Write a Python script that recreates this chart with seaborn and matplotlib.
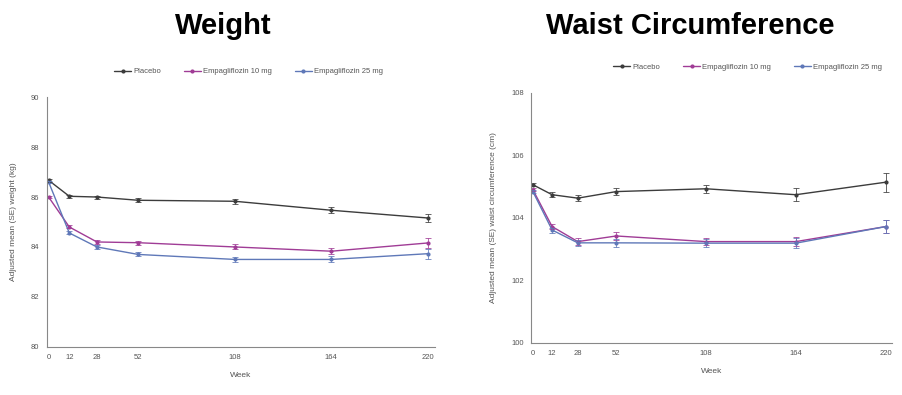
import matplotlib
matplotlib.use("Agg")
import matplotlib.pyplot as plt
import numpy as np
import pandas as pd
import seaborn as sns

weeks = [0, 12, 28, 52, 108, 164, 220]
groups = ["Placebo", "Empagliflozin 10 mg", "Empagliflozin 25 mg"]

weight_placebo = [86.67, 86.03, 86.0, 85.87, 85.83, 85.47, 85.16]
weight_empa10 = [86.0, 84.8, 84.2, 84.17, 84.0, 83.83, 84.16]
weight_empa25 = [86.6, 84.56, 84.0, 83.7, 83.5, 83.5, 83.73]
weight_se_placebo = [0.05, 0.06, 0.06, 0.08, 0.1, 0.12, 0.18]
weight_se_empa10 = [0.05, 0.06, 0.07, 0.08, 0.1, 0.12, 0.2]
weight_se_empa25 = [0.05, 0.06, 0.07, 0.08, 0.1, 0.12, 0.2]

waist_placebo = [105.06, 104.74, 104.63, 104.84, 104.93, 104.74, 105.14]
waist_empa10 = [104.9, 103.72, 103.24, 103.42, 103.24, 103.24, 103.72]
waist_empa25 = [104.84, 103.61, 103.2, 103.2, 103.19, 103.19, 103.72]
waist_se_placebo = [0.05, 0.08, 0.1, 0.1, 0.12, 0.2, 0.3]
waist_se_empa10 = [0.05, 0.08, 0.1, 0.12, 0.12, 0.15, 0.2]
waist_se_empa25 = [0.05, 0.08, 0.1, 0.12, 0.12, 0.15, 0.2]

colors = ["#3c3c3c", "#a03c96", "#5f78b8"]

sns.set_style("white")
plt.rcParams['font.family'] = ['Liberation Sans', 'DejaVu Sans']


def panel(ax, vals, ses, ylim, yticks, ylabel, leg_x):
    rows = []
    for g, v in zip(groups, vals):
        for w, y in zip(weeks, v):
            rows.append({"Week": w, "value": y, "group": g})
    df = pd.DataFrame(rows)
    sns.lineplot(data=df, x="Week", y="value", hue="group", hue_order=groups,
                 palette=colors, marker="o", markersize=3, markeredgewidth=0,
                 linewidth=1.0, ax=ax)
    for g, v, s, c in zip(groups, vals, ses, colors):
        ax.errorbar(weeks, v, yerr=s, fmt="none", ecolor=c, elinewidth=0.7,
                    capsize=2, capthick=0.7, alpha=0.8)
    ax.set_xlim(-1, 224)
    ax.set_ylim(*ylim)
    ax.set_xticks(weeks)
    ax.set_yticks(yticks)
    ax.tick_params(axis="both", labelsize=5.5, length=2.5, width=0.6,
                   colors="#666666", labelcolor="#555555", pad=3)
    ax.tick_params(axis="x", direction="in", pad=5)
    for sp in ["top", "right"]:
        ax.spines[sp].set_visible(False)
    for sp in ["left", "bottom"]:
        ax.spines[sp].set_color("#888888")
        ax.spines[sp].set_linewidth(0.8)
    ax.set_xlabel("Week", fontsize=6, color="#555555", labelpad=8)
    ax.set_ylabel(ylabel, fontsize=6, color="#555555", labelpad=10)
    leg = ax.legend(loc="lower center", bbox_to_anchor=(leg_x, 1.06), ncol=3,
                    frameon=False, fontsize=5.5, handlelength=2.2,
                    columnspacing=3.0, handletextpad=0.3)
    for t in leg.get_texts():
        t.set_color("#555555")


fig = plt.figure(figsize=(9.02, 3.95), dpi=100)
ax1 = fig.add_axes([0.052, 0.122, 0.43, 0.632])
ax2 = fig.add_axes([0.589, 0.132, 0.40, 0.633])

panel(ax1, [weight_placebo, weight_empa10, weight_empa25],
      [weight_se_placebo, weight_se_empa10, weight_se_empa25],
      (80, 90), [80, 82, 84, 86, 88, 90], "Adjusted mean (SE) weight (kg)", 0.52)
panel(ax2, [waist_placebo, waist_empa10, waist_empa25],
      [waist_se_placebo, waist_se_empa10, waist_se_empa25],
      (100, 108), [100, 102, 104, 106, 108],
      "Adjusted mean (SE) waist circumference (cm)", 0.6)

fig.text(0.248, 0.935, "Weight", ha="center", va="center", fontsize=21,
         fontweight="bold", color="black")
fig.text(0.765, 0.935, "Waist Circumference", ha="center", va="center",
         fontsize=21, fontweight="bold", color="black")

fig.savefig("out.png", dpi=100)
